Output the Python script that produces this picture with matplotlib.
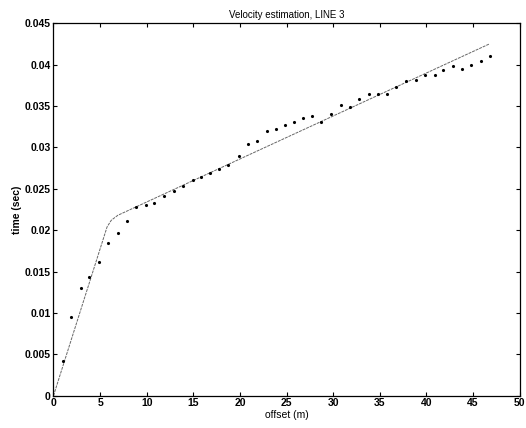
import matplotlib
matplotlib.use("Agg")
import matplotlib.pyplot as plt

plt.rcParams['font.family'] = ['Liberation Sans', 'DejaVu Sans']

# picked travel times (first arrivals)
offset = [0.97, 1.88, 2.95, 3.86, 4.88, 5.88, 6.88, 7.87, 8.85, 9.9,
          10.83, 11.86, 12.93, 13.9, 14.93, 15.83, 16.8, 17.76, 18.76, 19.9,
          20.87, 21.83, 22.87, 23.87, 24.84, 25.8, 26.77, 27.77, 28.7, 29.8,
          30.8, 31.85, 32.83, 33.85, 34.85, 35.8, 36.8, 37.87, 38.9, 39.88,
          40.9, 41.8, 42.85, 43.86, 44.82, 45.82, 46.8]
time = [0.0042, 0.00955, 0.0130, 0.01438, 0.0161, 0.0185, 0.0197, 0.0211, 0.0228, 0.0230,
        0.0233, 0.0241, 0.0247, 0.0254, 0.0261, 0.0264, 0.0269, 0.0274, 0.0279, 0.0290,
        0.0304, 0.0308, 0.0320, 0.0322, 0.0327, 0.0331, 0.0335, 0.0338, 0.0331, 0.0341,
        0.0351, 0.0349, 0.0359, 0.0364, 0.0364, 0.0365, 0.0373, 0.0380, 0.0382, 0.0388,
        0.0388, 0.0394, 0.0398, 0.0395, 0.0400, 0.0404, 0.0410]

# fitted two-layer travel-time curve
fit_x = [0.0, 5.75, 6.2, 6.9, 46.75]
fit_t = [0.0, 0.0204, 0.0212, 0.0218, 0.0425]

fig = plt.figure(figsize=(5.26, 4.28), dpi=100)
ax = fig.add_axes([0.1017, 0.0755, 0.886, 0.870])

ax.plot(fit_x, fit_t, color='0.4', linewidth=0.7, linestyle=(0, (3, 1)))
ax.plot(offset, time, linestyle='none', marker='.', markersize=2.5, color='black')

ax.set_xlim(0, 50)
ax.set_ylim(0, 0.045)
ax.set_xticks(range(0, 51, 5))
ax.set_yticks([0, 0.005, 0.01, 0.015, 0.02, 0.025, 0.03, 0.035, 0.04, 0.045])
ax.set_yticklabels(['0', '0.005', '0.01', '0.015', '0.02', '0.025', '0.03', '0.035', '0.04', '0.045'])
ax.tick_params(direction='in', top=True, right=True, length=3, width=0.8, labelsize=7.5, pad=2)
for lbl in ax.get_xticklabels() + ax.get_yticklabels():
    lbl.set_fontweight('bold')
for s in ax.spines.values():
    s.set_linewidth(0.9)

ax.set_title('Velocity estimation, LINE 3', fontsize=7, pad=4)
ax.set_xlabel('offset (m)', fontsize=7.5, labelpad=1)
ax.set_ylabel('time (sec)', fontsize=7.5, labelpad=2, fontweight='bold')

fig.savefig('out.png', dpi=100)
